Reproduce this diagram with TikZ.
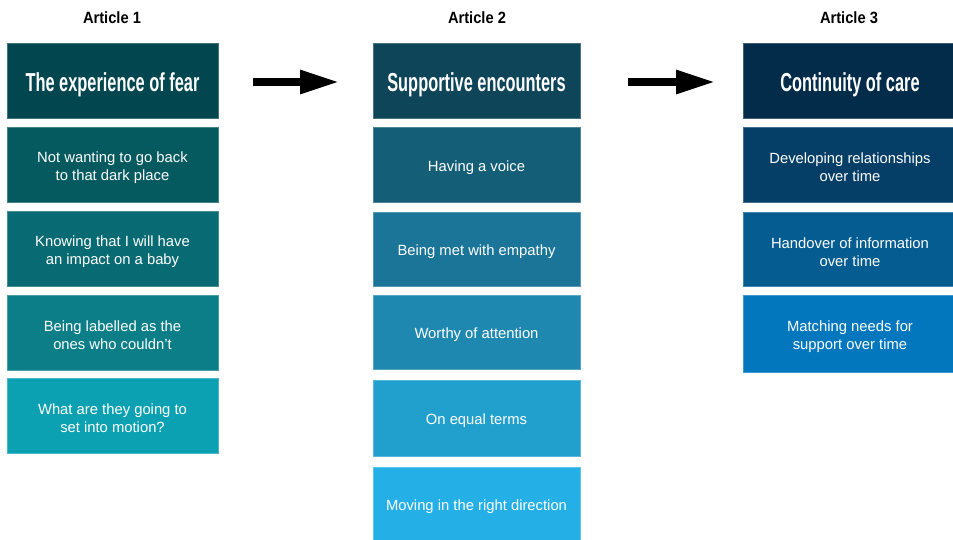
\documentclass[tikz,border=0pt]{standalone}
\usepackage{fontspec}
\setmainfont{Liberation Sans}
\newfontfamily\headfont[FakeStretch=0.9]{Liberation Sans}
\newfontfamily\titlefont[FakeStretch=0.63]{Liberation Sans}
\usetikzlibrary{arrows.meta}
\definecolor{ca0}{HTML}{02474F}
\definecolor{ca1}{HTML}{055A60}
\definecolor{ca2}{HTML}{086A72}
\definecolor{ca3}{HTML}{0B7E87}
\definecolor{ca4}{HTML}{0CA1B2}
\definecolor{cb0}{HTML}{0E4559}
\definecolor{cb1}{HTML}{155E78}
\definecolor{cb2}{HTML}{1A7598}
\definecolor{cb3}{HTML}{1E88B0}
\definecolor{cb4}{HTML}{21A0CD}
\definecolor{cb5}{HTML}{24B0E6}
\definecolor{cc0}{HTML}{032B4A}
\definecolor{cc1}{HTML}{053E66}
\definecolor{cc2}{HTML}{045C91}
\definecolor{cc3}{HTML}{0277BE}
\tikzset{
  x=1pt, y=-1pt,
  box/.style={anchor=north west, inner sep=0pt, outer sep=0pt, line width=0.7pt},
  txt/.style={align=center, text=white, inner sep=0pt, yshift=-3pt,
    font=\fontsize{14.8}{17.7}\selectfont},
  ttltxt/.style={txt, yshift=-1.5pt, font=\titlefont\bfseries\fontsize{26}{30}\selectfont},
  hdr/.style={font=\headfont\bfseries\fontsize{16.3}{18}\selectfont, text=black, inner sep=0pt},
  bigarrow/.style={line width=8.5pt, -{Triangle[length=40pt,width=22pt]}}
}
% name, text style, color, x, y, w, h, text
\newcommand\mybox[8]{%
  \node[box, fill=#3, draw=#3!75!white, minimum width=#6pt, minimum height=#7pt] (#1) at (#4,#5) {};
  \node[#2] (#1t) at (#1.center) {#8};}
\begin{document}
\begin{tikzpicture}
\useasboundingbox (0,0) rectangle (953,539);
% headers
\node[hdr] (h1) at (112,18) {Article 1};
\node[hdr] (h2) at (477,18) {Article 2};
\node[hdr] (h3) at (849,18) {Article 3};
% column 1
\mybox{a0}{ttltxt}{ca0}{7}{43}{211}{75}{The experience of fear}
\mybox{a1}{txt}{ca1}{7}{127}{211}{75}{Not wanting to go back\\to that dark place}
\mybox{a2}{txt}{ca2}{7}{211}{211}{75}{Knowing that I will have\\an impact on a baby}
\mybox{a3}{txt}{ca3}{7}{295}{211}{75}{Being labelled as the\\ones who couldn’t}
\mybox{a4}{txt}{ca4}{7}{378}{211}{75}{What are they going to\\set into motion?}
% column 2
\mybox{b0}{ttltxt}{cb0}{373}{43}{207}{75}{Supportive encounters}
\mybox{b1}{txt}{cb1}{373}{127}{207}{75}{Having a voice}
\mybox{b2}{txt}{cb2}{373}{212}{207}{74}{Being met with empathy}
\mybox{b3}{txt}{cb3}{373}{295}{207}{74}{Worthy of attention}
\mybox{b4}{txt}{cb4}{373}{380}{207}{76}{On equal terms}
\mybox{b5}{txt}{cb5}{373}{467}{207}{73}{Moving in the right direction}
% column 3
\mybox{c0}{ttltxt}{cc0}{743}{43}{214}{75}{Continuity of care}
\mybox{c1}{txt}{cc1}{743}{127}{214}{75}{Developing relationships\\over time}
\mybox{c2}{txt}{cc2}{743}{212}{214}{74}{Handover of information\\over time}
\mybox{c3}{txt}{cc3}{743}{295}{214}{77}{Matching needs for\\support over time}
% arrows
\coordinate (p1) at (253,82);
\coordinate (q1) at (340,82);
\coordinate (p2) at (628,82);
\coordinate (q2) at (716,82);
\draw[bigarrow] (p1) -- (q1);
\draw[bigarrow] (p2) -- (q2);
\end{tikzpicture}
\end{document}
